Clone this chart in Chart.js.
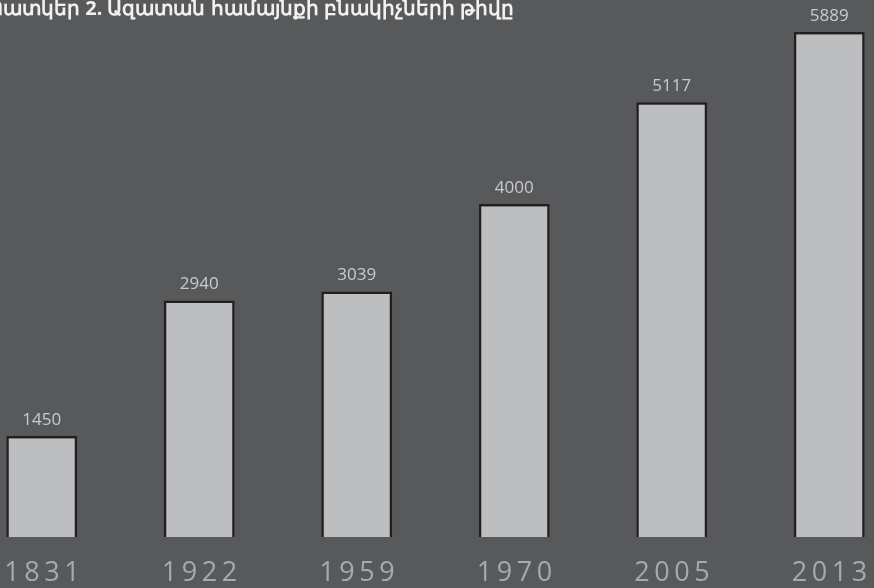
<!DOCTYPE html>
<html>
<head>
<meta charset="utf-8">
<script src="https://cdn.jsdelivr.net/npm/chart.js@4"></script>
<style>
html,body{margin:0;padding:0;background:#58595b;overflow:hidden;width:874px;height:588px;}
#wrap{position:absolute;left:-37px;top:0;width:945px;height:588px;}
</style>
</head>
<body>
<div id="wrap"><canvas id="c" width="945" height="588"></canvas></div>
<script>
const titleText = "Պատկեր 2. Ազատան համայնքի բնակիչների թիվը";
const years = ["1831", "1922", "1959", "1970", "2005", "2013"];
const population = [1450, 2940, 3039, 4000, 5117, 5889];

const spacingPlugin = {
  id: 'spacing',
  beforeDraw(chart) { chart.ctx.letterSpacing = '4.5px'; },
  beforeDatasetsDraw(chart) { chart.ctx.letterSpacing = '0px'; }
};
const labelPlugin = {
  id: 'vals',
  afterDatasetsDraw(chart) {
    const ctx = chart.ctx;
    const meta = chart.getDatasetMeta(0);
    ctx.save();
    ctx.letterSpacing = '0px';
    ctx.font = '17px "Open Sans"';
    ctx.fillStyle = '#c9cacc';
    ctx.textAlign = 'center';
    ctx.textBaseline = 'alphabetic';
    meta.data.forEach((bar, i) => {
      ctx.fillText(String(population[i]), bar.x, bar.y - 11);
    });
    ctx.font = 'bold 20px "Noto Sans"';
    ctx.fillStyle = '#f1f1f2';
    ctx.textAlign = 'left';
    ctx.fillText(titleText, 24, 15);
    ctx.restore();
  }
};

new Chart(document.getElementById('c'), {
  type: 'bar',
  data: {
    labels: years,
    datasets: [{
      data: population,
      backgroundColor: '#bcbec0',
      borderColor: '#231f20',
      borderWidth: 2.5,
      borderSkipped: false,
      categoryPercentage: 1,
      barPercentage: 0.45
    }]
  },
  options: {
    responsive: false,
    animation: false,
    layout: { padding: 0 },
    plugins: { legend: { display: false }, tooltip: { enabled: false } },
    scales: {
      y: { display: false, min: 340, max: 6241, beginAtZero: false },
      x: {
        grid: { display: false, drawTicks: false },
        border: { display: false },
        ticks: { color: '#a7a9ac', font: { family: 'Open Sans', size: 27 }, padding: 20, maxRotation: 0, labelOffset: 2.5 },
        afterFit(scale) { scale.height = 51; }
      }
    }
  },
  plugins: [spacingPlugin, labelPlugin]
});
</script>
</body>
</html>
